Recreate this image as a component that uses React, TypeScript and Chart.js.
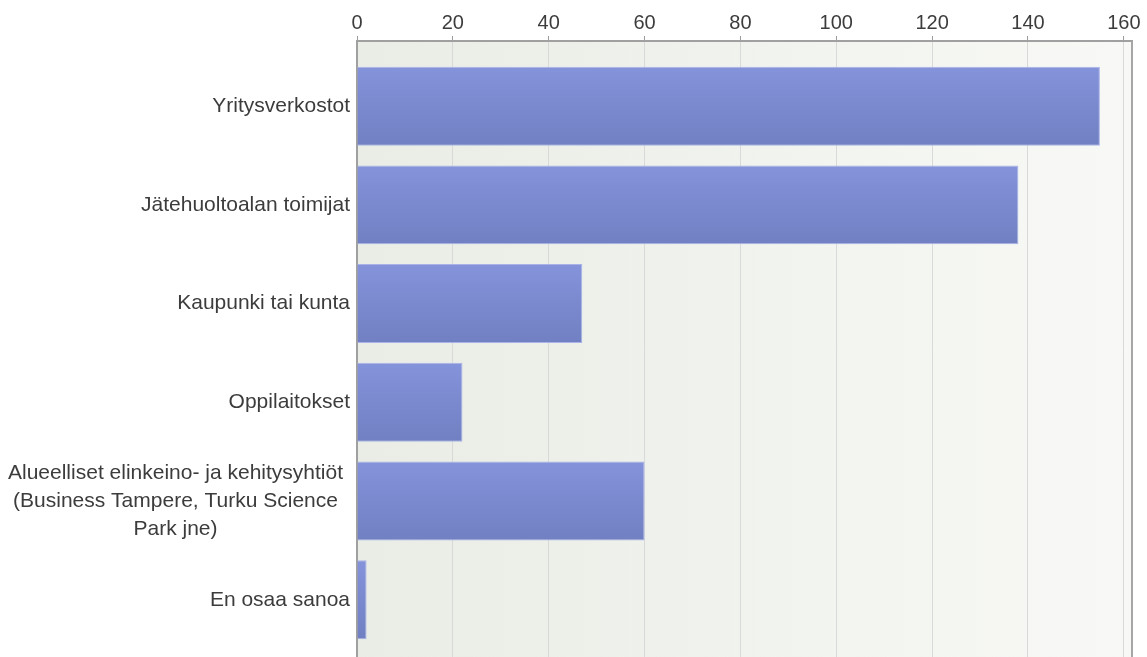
import React, { useEffect, useRef } from "react";
import { Chart, registerables } from "chart.js";

Chart.register(...registerables);

const categories: (string | string[])[] = [
  "Yritysverkostot",
  "Jätehuoltoalan toimijat",
  "Kaupunki tai kunta",
  "Oppilaitokset",
  ["Alueelliset elinkeino- ja kehitysyhtiöt", "(Business Tampere, Turku Science", "Park jne)"],
  "En osaa sanoa",
];
const values: number[] = [155, 138, 47, 22, 60, 2];
const xTicks: number[] = [0, 20, 40, 60, 80, 100, 120, 140, 160];

const X_MAX = 161.7;
const Y_MIN = -0.66;
const Y_MAX = 5.58;

const FONT = "'Liberation Sans', Arial, Helvetica, sans-serif";
const LABEL_SIZE = 21;
const LABEL_LINE = 28;
const TEXT_COLOR = "#3c3c3c";

const bgPlugin = {
  id: "plotBg",
  beforeDraw(chart: any) {
    const { ctx, chartArea } = chart;
    if (!chartArea) return;
    const g = ctx.createLinearGradient(chartArea.left, 0, chartArea.right, 0);
    g.addColorStop(0, "#e9ede5");
    g.addColorStop(1, "#f8f9f6");
    ctx.save();
    ctx.fillStyle = g;
    ctx.fillRect(chartArea.left, chartArea.top, chartArea.right - chartArea.left, chartArea.bottom - chartArea.top);
    ctx.restore();
  },
  afterDraw(chart: any) {
    const { ctx, chartArea } = chart;
    ctx.save();
    ctx.strokeStyle = "#a6a6a6";
    ctx.lineWidth = 2;
    ctx.beginPath();
    ctx.moveTo(chartArea.right, chartArea.top);
    ctx.lineTo(chartArea.right, chartArea.bottom);
    ctx.stroke();

    // multi-line category labels: centred block, right edge near the axis
    const y = chart.scales.y;
    ctx.font = `${LABEL_SIZE}px ${FONT}`;
    ctx.fillStyle = TEXT_COLOR;
    ctx.textAlign = "center";
    ctx.textBaseline = "middle";
    categories.forEach((c, i) => {
      if (!Array.isArray(c)) return;
      const maxW = Math.max(...c.map((l) => ctx.measureText(l).width));
      const cx = chartArea.left - 14 - maxW / 2;
      const cy = y.getPixelForValue(i);
      c.forEach((line, k) => {
        ctx.fillText(line, cx, cy + (k - (c.length - 1) / 2) * LABEL_LINE);
      });
    });
    ctx.restore();
  },
};

export default function App() {
  const ref = useRef<HTMLCanvasElement | null>(null);
  useEffect(() => {
    if (!ref.current) return;
    const chart = new Chart(ref.current, {
      type: "bar",
      data: {
        datasets: [
          {
            data: values.map((v, i) => ({ x: v, y: i })),
            backgroundColor: (c: any) => {
              const ch = c.chart;
              const y = ch.scales && ch.scales.y;
              if (!y || c.dataIndex === undefined) return "#7b89d0";
              const top = y.getPixelForValue(c.dataIndex - 0.4);
              const bot = y.getPixelForValue(c.dataIndex + 0.4);
              if (!isFinite(top) || !isFinite(bot)) return "#7b89d0";
              const g = ch.ctx.createLinearGradient(0, top, 0, bot);
              g.addColorStop(0, "#8593db");
              g.addColorStop(1, "#7080c2");
              return g;
            },
            borderColor: "#a9b3e8",
            borderWidth: 1,
            barPercentage: 0.8,
            categoryPercentage: 1,
          },
        ],
      },
      options: {
        indexAxis: "y",
        animation: false,
        responsive: true,
        maintainAspectRatio: false,
        layout: { padding: { left: 0, right: 15, top: 0, bottom: 0 } },
        plugins: { legend: { display: false }, tooltip: { enabled: false } },
        scales: {
          x: {
            type: "linear",
            position: "top",
            min: 0,
            max: X_MAX,
            afterBuildTicks: (axis: any) => {
              axis.ticks = xTicks.map((v) => ({ value: v }));
              axis.min = 0;
              axis.max = X_MAX;
            },
            afterFit: (scale: any) => {
              scale.height = 41;
            },
            ticks: {
              font: { family: FONT, size: 20 },
              color: TEXT_COLOR,
              padding: 1,
            },
            grid: {
              color: "#d9d9d9",
              tickColor: "#9a9a9a",
              tickLength: 5,
              lineWidth: 1,
            },
            border: { color: "#a0a0a0", width: 2 },
          },
          y: {
            type: "linear",
            reverse: true,
            offset: false,
            grace: 0,
            bounds: "data",
            min: Y_MIN,
            max: Y_MAX,
            afterBuildTicks: (axis: any) => {
              axis.ticks = categories.map((_, i) => ({ value: i }));
              axis.min = Y_MIN;
              axis.max = Y_MAX;
            },
            afterFit: (scale: any) => {
              scale.width = 357;
              scale.paddingTop = 0;
              scale.paddingBottom = 0;
            },
            ticks: {
              callback: (v: any) => {
                const c = categories[v as number];
                return Array.isArray(c) ? "" : c;
              },
              font: { family: FONT, size: LABEL_SIZE, lineHeight: 1.33 },
              color: TEXT_COLOR,
              padding: 7,
            },
            grid: { display: false, drawTicks: false, offset: false },
            border: { color: "#a0a0a0", width: 2 },
          },
        },
      },
      plugins: [bgPlugin],
    } as any);
    return () => chart.destroy();
  }, []);
  return (
    <div style={{ position: "fixed", left: 0, top: 0, width: 1147, height: 657, background: "#fff" }}>
      <canvas ref={ref} />
    </div>
  );
}
